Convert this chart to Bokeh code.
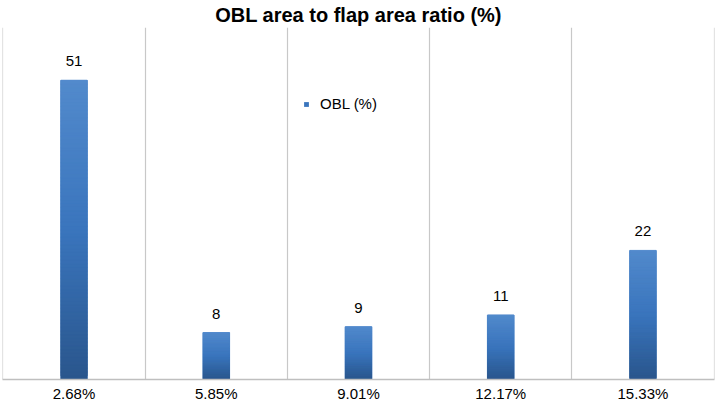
from bokeh.plotting import figure
from bokeh.models import (ColumnDataSource, FixedTicker, Grid, LabelSet, Legend,
                          LegendItem, Range1d)
from bokeh.core.properties import value
from bokeh.embed import file_html
from bokeh.resources import INLINE

# ---- data ----
categories = ["2.68%", "5.85%", "9.01%", "12.17%", "15.33%"]
obl_values = [51, 8, 9, 11, 22]
series_name = "OBL (%)"
title_text = "OBL area to flap area ratio (%)"

FONT = "Liberation Sans"

p = figure(width=715, height=406, output_backend="svg", toolbar_location=None,
           x_range=Range1d(-0.003, 5.003), y_range=Range1d(0, 60),
           min_border_left=2, min_border_right=1, min_border_top=0,
           min_border_bottom=27)
p.title.text = title_text
p.title.align = "center"
p.title.text_font = FONT
p.title.text_font_size = "20px"
p.title.text_font_style = "bold"
p.title.text_color = "#000000"
p.title.standoff = 3
p.title.offset = 0
p.outline_line_color = None
p.background_fill_color = "white"
p.border_fill_color = "white"

# gradient bars built from slices of each value
n_slices = 80
top_col = (0x52, 0x8a, 0xcc)
mid_col = (0x3a, 0x75, 0xbd)
bot_col = (0x2a, 0x56, 0x8c)


def lerp(a, b, t):
    return tuple(int(round(a[i] + (b[i] - a[i]) * t)) for i in range(3))


def grad(f):  # f: 0 bottom -> 1 top
    if f < 0.5:
        c = lerp(bot_col, mid_col, f / 0.5)
    else:
        c = lerp(mid_col, top_col, (f - 0.5) / 0.5)
    return "#%02x%02x%02x" % c


xs, bots, tops, cols = [], [], [], []
for i, v in enumerate(obl_values):
    for k in range(n_slices):
        xs.append(i + 0.5)
        bots.append(v * k / n_slices)
        tops.append(min(v, v * (k + 2) / n_slices))
        cols.append(grad((k + 0.5) / n_slices))

# thin light outline behind bars
outline_src = ColumnDataSource(dict(x=[i + 0.5 for i in range(len(obl_values))],
                                    top=obl_values))
p.vbar(x="x", top="top", bottom=0, width=0.195, source=outline_src,
       fill_color="#8fb4e0", line_color=None)
src = ColumnDataSource(dict(x=xs, bottom=bots, top=tops, color=cols))
bars = p.vbar(x="x", top="top", bottom="bottom", width=0.185, source=src,
              fill_color="color", line_color="color", line_width=0.6)

# legend proxy renderer (zero height, not visible)
leg_r = p.vbar(x=[0.5], top=[0], bottom=[0], width=0.1,
               fill_color="#3a75bd", line_color=None)

# data labels
lab_src = ColumnDataSource(dict(x=[i + 0.5 for i in range(len(obl_values))],
                                y=obl_values, t=[str(v) for v in obl_values]))
p.add_layout(LabelSet(x="x", y="y", text="t", source=lab_src, y_offset=14,
                      text_align="center", text_baseline="bottom",
                      text_font=value(FONT), text_font_size=value("15px"),
                      text_color="#000000"))

# axes
p.yaxis.visible = False
p.xaxis.ticker = FixedTicker(ticks=[i + 0.5 for i in range(len(categories))])
p.xaxis.major_label_overrides = {i + 0.5: c for i, c in enumerate(categories)}
p.xaxis.major_label_text_font = FONT
p.xaxis.major_label_text_font_size = "15px"
p.xaxis.major_label_text_color = "#000000"
p.xaxis.major_label_standoff = 5
p.xaxis.major_tick_out = 0
p.xaxis.major_tick_in = 0
p.xaxis.minor_tick_out = 0
p.xaxis.minor_tick_in = 0
p.xaxis.axis_label_standoff = 0
p.xaxis.major_tick_line_color = None
p.xaxis.minor_tick_line_color = None
p.xaxis.axis_line_color = "#bfbfbf"
p.xaxis.axis_line_width = 1.5

p.xgrid.visible = False
p.ygrid.visible = False
p.add_layout(Grid(dimension=0, ticker=FixedTicker(ticks=list(range(len(categories) + 1))),
                  grid_line_color="#c8c8c8", grid_line_width=1.2))

legend = Legend(items=[LegendItem(label=series_name, renderers=[leg_r])],
                location=(301, 267), orientation="vertical",
                glyph_width=6, glyph_height=6, label_standoff=11,
                padding=0, margin=0, border_line_color=None,
                background_fill_alpha=0,
                label_text_font=FONT, label_text_font_size="15px",
                label_text_color="#000000")
p.add_layout(legend)

open("out.html", "w").write(file_html(p, INLINE))
